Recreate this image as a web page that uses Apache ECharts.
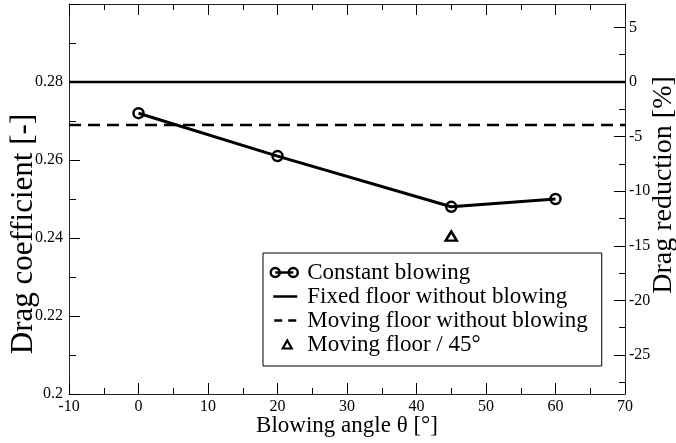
<!DOCTYPE html>
<html>
<head>
<meta charset="utf-8">
<script src="https://cdn.jsdelivr.net/npm/echarts@6/dist/echarts.min.js"></script>
<style>
  html, body { margin: 0; padding: 0; background: #fff; }
  #chart { width: 676px; height: 443px; }
</style>
</head>
<body>
<div id="chart"></div>
<script>
// data
var angles = [0, 20, 45, 60];
var cdBlowing = [0.272, 0.261, 0.248, 0.250];
var cdFixed = 0.28;          // fixed floor, no blowing (reference for drag reduction)
var cdMoving = 0.269;        // moving floor, no blowing
var anglesMoving45 = [45];
var cdMoving45 = [0.2405];
var xRange = [-10, 70];
var cdRange = [0.2, 0.3];
var reductionTicks = [-25, -20, -15, -10, -5, 0, 5];
var reductionMinor = [-27.5, -22.5, -17.5, -12.5, -7.5, -2.5, 2.5];

var FONT = 'Liberation Serif';

function pairs(xs, ys) {
	var out = [];
	for (var i = 0; i < xs.length; i++) out.push([xs[i], ys[i]]);
	return out;
}

// right axis is the drag reduction relative to the fixed floor
var redMin = (cdRange[0] / cdFixed - 1) * 100;
var redMax = (cdRange[1] / cdFixed - 1) * 100;

var tickStyle = { color: '#000', width: 1 };
var axisLine = { show: true, onZero: false, lineStyle: { color: '#222', width: 1 } };
var labelFont = { fontFamily: FONT, fontSize: 16, color: '#000' };

var xCommon = {
	type: 'value',
	min: xRange[0],
	max: xRange[1],
	interval: 10,
	axisLine: axisLine,
	axisTick: { show: true, inside: true, length: 11, lineStyle: tickStyle },
	minorTick: { show: true, splitNumber: 2, length: 6, lineStyle: tickStyle },
	splitLine: { show: false }
};

var option = {
	animation: false,
	backgroundColor: '#fff',
	grid: { left: 69, right: 51, top: 4, bottom: 49, containLabel: false, outerBoundsMode: 'none' },
	xAxis: [
		Object.assign({}, xCommon, {
			position: 'bottom',
			name: 'Blowing angle θ [°]',
			nameLocation: 'middle',
			nameGap: 20,
			nameMoveOverlap: false,
			nameTextStyle: { fontFamily: FONT, fontSize: 23, color: '#000' },
			axisLabel: Object.assign({ margin: 5 }, labelFont)
		}),
		Object.assign({}, xCommon, {
			position: 'top',
			axisLabel: { show: false }
		})
	],
	yAxis: [
		{
			type: 'value',
			position: 'left',
			min: cdRange[0],
			max: cdRange[1],
			interval: 0.02,
			name: 'Drag coefficient [-]',
			nameLocation: 'middle',
			nameRotate: 90,
			nameGap: 30,
			nameMoveOverlap: false,
			nameTextStyle: { fontFamily: FONT, fontSize: 31, color: '#000', padding: [0, 70, 0, 0] },
			axisLine: axisLine,
			axisTick: { show: true, inside: true, length: 11, lineStyle: tickStyle },
			minorTick: { show: true, splitNumber: 2, length: 7, lineStyle: tickStyle },
			splitLine: { show: false },
			axisLabel: Object.assign({ margin: 6, showMaxLabel: false }, labelFont)
		},
		{
			type: 'value',
			position: 'right',
			min: redMin,
			max: redMax,
			name: 'Drag reduction [%]',
			nameLocation: 'middle',
			nameRotate: 90,
			nameGap: 25,
			nameMoveOverlap: false,
			nameTextStyle: { fontFamily: FONT, fontSize: 28, color: '#000', padding: [0, 0, 0, 28] },
			axisLine: axisLine,
			axisTick: { show: true, inside: true, length: 11, lineStyle: tickStyle, customValues: reductionTicks },
			splitLine: { show: false },
			axisLabel: Object.assign({ margin: 4, customValues: reductionTicks }, labelFont)
		},
		{
			// minor ticks of the drag reduction axis
			type: 'value',
			position: 'right',
			min: redMin,
			max: redMax,
			axisLine: { show: false, onZero: false },
			axisTick: { show: true, inside: true, length: 6, lineStyle: tickStyle, customValues: reductionMinor },
			splitLine: { show: false },
			axisLabel: { show: false, customValues: reductionMinor }
		}
	],
	legend: {
		orient: 'vertical',
		left: 263,
		top: 253,
		itemWidth: 30,
		itemHeight: 12,
		itemGap: 1,
		padding: [8, 14, 10, 5],
		borderColor: '#000',
		borderWidth: 1,
		borderRadius: 0,
		backgroundColor: '#fff',
		textStyle: { fontFamily: FONT, fontSize: 23, lineHeight: 23, color: '#000', padding: [0, 0, 0, 3] },
		data: [
			{
				name: 'Constant blowing',
				icon: 'path://M0,0M30,12M1.5,6a4.5,4.5 0 1,0 9,0a4.5,4.5 0 1,0 -9,0M6,6H24M19.5,6a4.5,4.5 0 1,0 9,0a4.5,4.5 0 1,0 -9,0',
				itemStyle: { color: 'rgba(0,0,0,0)', borderColor: '#000', borderWidth: 2.5 }
			},
			{
				name: 'Fixed floor without blowing',
				icon: 'path://M0,0M30,12M4,4.75H28V7.25H4Z',
				itemStyle: { color: '#000', borderWidth: 0 }
			},
			{
				name: 'Moving floor without blowing',
				icon: 'path://M0,0M30,12M5,4.75H13V7.25H5ZM19,4.75H27V7.25H19Z',
				itemStyle: { color: '#000', borderWidth: 0 }
			},
			{
				name: 'Moving floor / 45°',
				icon: 'path://M0,0M30,12M18,2L22.5,10H13.5Z',
				itemStyle: { color: 'rgba(0,0,0,0)', borderColor: '#000', borderWidth: 2.2 }
			}
		]
	},
	series: [
		{
			name: 'Fixed floor without blowing',
			type: 'line',
			data: pairs(xRange, [cdFixed, cdFixed]),
			symbol: 'none',
			lineStyle: { color: '#000', width: 2.5 },
			itemStyle: { color: '#000' }
		},
		{
			name: 'Moving floor without blowing',
			type: 'line',
			data: pairs(xRange, [cdMoving, cdMoving]),
			symbol: 'none',
			lineStyle: { color: '#000', width: 2.5, type: [12, 7] },
			itemStyle: { color: '#000' }
		},
		{
			name: 'Constant blowing',
			type: 'line',
			data: pairs(angles, cdBlowing),
			symbol: 'circle',
			symbolSize: 10,
			lineStyle: { color: '#000', width: 3 },
			itemStyle: { color: 'rgba(0,0,0,0)', borderColor: '#000', borderWidth: 2.5 },
			z: 3
		},
		{
			name: 'Moving floor / 45°',
			type: 'scatter',
			data: pairs(anglesMoving45, cdMoving45),
			symbol: 'triangle',
			symbolSize: [11, 9],
			itemStyle: { color: 'rgba(0,0,0,0)', borderColor: '#000', borderWidth: 2.5, opacity: 1 }
		}
	]
};

var chart = echarts.init(document.getElementById('chart'));
chart.setOption(option);
</script>
</body>
</html>
